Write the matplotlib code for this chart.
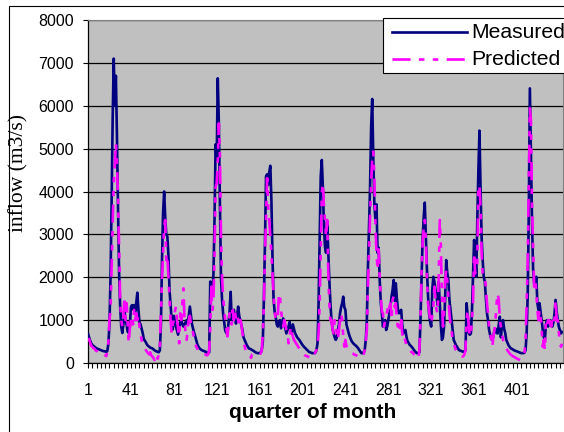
import numpy as np
import matplotlib
matplotlib.use('Agg')
import matplotlib.pyplot as plt
from matplotlib.patches import Rectangle
from matplotlib.lines import Line2D

# Inflow per quarter of month (m3/s)
measured = [
    680, 600, 520, 460, 420, 400, 380, 360, 340, 330,
    320, 310, 300, 290, 280, 275, 270, 260, 280, 450,
    900, 2000, 3700, 5700, 7100, 6000, 6700, 5300, 3600, 2100,
    1300, 850, 700, 900, 1200, 1000, 900, 730, 700, 850,
    1300, 1350, 1250, 1350, 1200, 1400, 1640, 1250, 950, 900,
    800, 700, 560, 520, 480, 430, 400, 380, 360, 350,
    340, 320, 300, 280, 270, 260, 250, 300, 900, 2400,
    3500, 4000, 3400, 3000, 2950, 2500, 1700, 1350, 1000, 780,
    1100, 1000, 850, 750, 660, 800, 950, 1000, 900, 850,
    900, 950, 1000, 900, 1100, 1315, 1100, 900, 800, 700,
    620, 520, 430, 380, 340, 320, 300, 290, 280, 270,
    260, 240, 230, 250, 1900, 1700, 1550, 2100, 3400, 5100,
    4750, 6640, 5600, 3700, 2000, 1470, 1150, 950, 750, 700,
    690, 920, 1200, 1660, 1000, 1100, 1240, 1100, 920, 1100,
    1315, 1100, 1000, 880, 770, 600, 540, 480, 420, 380,
    340, 330, 320, 300, 290, 270, 250, 240, 230, 230,
    230, 240, 300, 500, 1500, 2800, 4350, 4400, 4150, 4450,
    4600, 3800, 2500, 1500, 1200, 1080, 900, 850, 950, 1000,
    810, 950, 1040, 920, 800, 690, 770, 850, 960, 750,
    700, 900, 800, 700, 650, 600, 570, 540, 500, 460,
    420, 390, 360, 340, 310, 290, 260, 250, 240, 230,
    230, 230, 240, 300, 460, 1390, 2900, 4350, 4735, 4100,
    3180, 2700, 2570, 3300, 2600, 1950, 1400, 1000, 800, 690,
    600, 540, 600, 770, 900, 1160, 1300, 1400, 1547, 1300,
    1240, 900, 800, 700, 620, 560, 500, 470, 440, 420,
    400, 370, 340, 300, 260, 230, 230, 240, 300, 540,
    1000, 2200, 3200, 4100, 5500, 6157, 4800, 3700, 3335, 3700,
    2570, 2690, 1936, 1400, 1160, 850, 950, 1000, 770, 850,
    1000, 1160, 1300, 1547, 1700, 1936, 1450, 1860, 1500, 1240,
    1160, 1200, 1240, 900, 690, 730, 770, 600, 500, 470,
    420, 400, 370, 340, 300, 270, 240, 230, 230, 250,
    1000, 2000, 2900, 3400, 3740, 3000, 2200, 1600, 1160, 960,
    850, 1700, 2010, 1900, 1700, 1550, 1350, 1900, 1400, 900,
    540, 600, 850, 1500, 2400, 2100, 1936, 1470, 1240, 1000,
    770, 540, 480, 420, 380, 340, 300, 290, 280, 270,
    260, 260, 300, 1395, 1100, 700, 660, 690, 1200, 2000,
    2870, 2570, 2010, 3335, 4500, 5420, 4100, 2940, 2400, 2000,
    1900, 1500, 1160, 1000, 770, 650, 560, 540, 620, 770,
    800, 700, 690, 900, 1080, 600, 900, 1000, 800, 700,
    540, 480, 420, 380, 350, 330, 320, 300, 290, 280,
    270, 260, 250, 240, 230, 230, 230, 240, 300, 700,
    1600, 3500, 6405, 4890, 3335, 2200, 1860, 1800, 2010, 1400,
    1240, 1395, 1200, 1000, 770, 600, 540, 900, 1000, 850,
    950, 1000, 900, 850, 950, 1160, 1470, 1200, 1000, 850,
    770, 690, 720,
]

predicted = [
    520, 560, 480, 400, 380, 350, 330, 300, 280, 270,
    250, 240, 260, 230, 220, 200, 180, 160, 250, 500,
    1000, 1236, 2250, 3250, 4200, 4600, 5125, 4650, 3800, 2700,
    1470, 1000, 850, 1100, 1550, 1000, 1395, 900, 460, 800,
    1000, 1100, 900, 1236, 1000, 1160, 1000, 1100, 850, 700,
    540, 420, 380, 350, 300, 260, 230, 200, 250, 180,
    150, 120, 70, 200, 180, 100, 200, 400, 1160, 1936,
    2570, 3180, 3335, 2400, 2500, 2010, 1550, 1000, 690, 900,
    1000, 1200, 1315, 1000, 800, 460, 1160, 1000, 1395, 1740,
    1000, 700, 540, 800, 1000, 1100, 900, 850, 700, 550,
    450, 380, 330, 300, 260, 240, 220, 210, 200, 200,
    190, 180, 200, 300, 800, 1780, 1236, 1500, 2570, 4113,
    4190, 4700, 5590, 4890, 2940, 2010, 1550, 1236, 1000, 800,
    620, 900, 1160, 1000, 900, 1236, 1000, 1236, 1000, 1100,
    1000, 850, 1000, 900, 700, 540, 400, 300, 250, 230,
    230, 200, 120, 200, 210, 200, 190, 180, 180, 200,
    200, 220, 300, 690, 1395, 2570, 3335, 4310, 3660, 3335,
    2940, 2570, 2090, 1625, 1236, 1000, 1000, 1100, 1625, 1550,
    1236, 1000, 850, 1000, 900, 770, 700, 460, 620, 850,
    700, 620, 540, 500, 460, 420, 380, 340, 300, 250,
    230, 200, 180, 170, 160, 150, 140, 130, 120, 100,
    150, 200, 250, 300, 400, 690, 1395, 2570, 3960, 4190,
    3660, 3335, 2940, 3335, 2170, 1400, 1000, 1000, 800, 690,
    1000, 850, 700, 540, 770, 1000, 1160, 1000, 620, 380,
    540, 400, 350, 300, 280, 250, 230, 220, 200, 190,
    180, 170, 160, 150, 130, 120, 150, 200, 300, 500,
    770, 1780, 2570, 3335, 4190, 4735, 4930, 4350, 3180, 2570,
    2170, 2650, 2010, 1550, 1200, 1160, 850, 1000, 1100, 1200,
    1395, 1300, 1395, 1000, 1470, 1550, 1300, 1395, 1000, 850,
    1000, 770, 1000, 700, 540, 600, 500, 420, 380, 340,
    300, 270, 250, 230, 200, 180, 160, 130, 100, 300,
    1000, 2170, 2800, 3180, 3335, 2870, 2010, 1395, 1236, 1000,
    920, 1100, 1315, 1780, 1470, 1236, 1160, 2000, 3335, 2750,
    1550, 850, 1160, 1936, 2170, 1900, 1550, 1160, 900, 770,
    540, 460, 380, 300, 260, 230, 200, 180, 160, 150,
    160, 200, 300, 1000, 1236, 850, 620, 700, 1000, 1400,
    2570, 2090, 2200, 2320, 4113, 4150, 3660, 2570, 2090, 2010,
    2000, 1780, 1395, 1160, 850, 700, 540, 380, 620, 770,
    1000, 1395, 1625, 1470, 1000, 850, 700, 540, 460, 420,
    350, 300, 260, 230, 200, 180, 160, 150, 130, 120,
    100, 90, 80, 70, 100, 150, 200, 250, 540, 1395,
    2400, 4113, 5940, 5670, 3730, 2750, 1780, 1936, 1700, 1236,
    1000, 1236, 1100, 770, 380, 540, 300, 1000, 900, 1000,
    1000, 900, 850, 1100, 1000, 1000, 1470, 1000, 1000, 700,
    540, 380, 450,
]

n = min(len(measured), len(predicted))
quarters = np.arange(1, n + 1)
y_ticks = [0, 1000, 2000, 3000, 4000, 5000, 6000, 7000, 8000]
x_tick_labels = [1, 41, 81, 121, 161, 201, 241, 281, 321, 361, 401]

plt.rcParams['font.family'] = ['Liberation Sans', 'DejaVu Sans']
plt.rcParams['lines.scale_dashes'] = False

W, H = 564, 432
navy = '#000080'
magenta = '#ff00ff'
pred_style = (0, (13, 6, 4, 6, 4, 6))


def fx(px):
    return px / W


def fy(py):
    return 1 - py / H


fig = plt.figure(figsize=(W / 100, H / 100), dpi=100)
fig.patch.set_facecolor('white')

# chart border (cropped at the right and bottom)
fig.patches.append(Rectangle((fx(9), -0.1), 1.2, fy(6) + 0.1, transform=fig.transFigure,
                             fill=False, edgecolor='black', lw=0.8))

ax = fig.add_axes([fx(88), fy(363), 475 / W, 343 / H])
ax.set_facecolor('#c0c0c0')
ax.plot(quarters, measured[:n], color=navy, lw=1.9, zorder=3)
ax.plot(quarters, predicted[:n], color=magenta, lw=1.9, linestyle=pred_style, zorder=4)

ax.set_xlim(1, 443.9)
ax.set_ylim(0, 8000)
ax.set_yticks(y_ticks)
ax.yaxis.grid(True, color='black', lw=0.9)
ax.set_axisbelow(True)
ax.set_xticks(x_tick_labels)
ax.set_xticks(np.arange(1, 444, 4), minor=True)
ax.tick_params(axis='x', which='both', direction='out', length=3.6, width=0.8, pad=11,
               labelsize=11.5)
ax.tick_params(axis='y', direction='out', length=3.6, width=0.8, pad=6.5, labelsize=11.5)

ax.spines['top'].set_color('#808080')
ax.spines['right'].set_color('#808080')
for side in ['left', 'bottom']:
    ax.spines[side].set_color('black')
    ax.spines[side].set_linewidth(0.9)

ax.set_ylabel('inflow (m3/s)', family=['Liberation Serif', 'DejaVu Serif'], fontsize=15.5)
ax.yaxis.set_label_coords((28 - 88) / 475, 0.555)
fig.text(fx(313), fy(413), 'quarter of month', ha='center', va='center',
         fontsize=15, fontweight='bold')

# legend box, its right side runs off the picture as in the original
fig.patches.append(Rectangle((fx(382.7), fy(73.3)), 0.5, (73.3 - 18.3) / H,
                             transform=fig.transFigure, facecolor='white',
                             edgecolor='black', lw=0.8, zorder=5))
fig.lines.append(Line2D([fx(392), fx(467)], [fy(31.7), fy(31.7)], transform=fig.transFigure,
                        color=navy, lw=1.9, zorder=6))
fig.lines.append(Line2D([fx(392), fx(467)], [fy(59.3), fy(59.3)], transform=fig.transFigure,
                        color=magenta, lw=1.9, linestyle=pred_style, zorder=6))
fig.text(fx(471), fy(32), 'Measured', va='center', ha='left', fontsize=15.2, zorder=7)
fig.text(fx(471), fy(59.6), 'Predicted', va='center', ha='left', fontsize=15.2, zorder=7)

fig.savefig('out.png', dpi=100)
